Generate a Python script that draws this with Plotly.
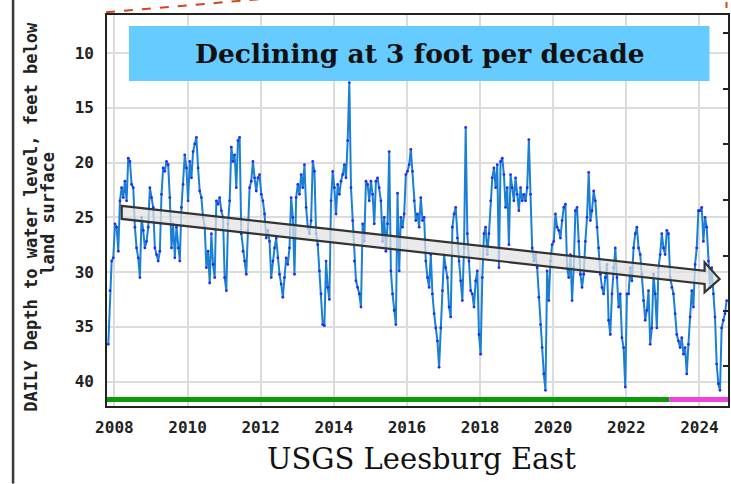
import numpy as np
import plotly.graph_objects as go

# Daily depth-to-water record, sampled about every 16.6 days (22 samples per year)
SAMPLES_PER_YEAR = 22
FIRST_SAMPLE_YEAR = 2007.834

depth_2008_2013 = [
    36.6, 31.7, 29.0, 28.7, 25.6, 25.9, 28.1, 23.5, 22.3, 23.2,
    21.7, 23.5, 19.6, 19.9, 22.0, 22.3, 25.9, 27.8, 28.7, 30.5,
    25.0, 26.2, 27.8, 27.2, 25.9, 22.3, 23.2, 24.1, 27.8, 28.4,
    29.0, 28.1, 22.9, 20.5, 20.8, 19.9, 20.2, 23.2, 27.8, 25.6,
    28.7, 25.9, 27.8, 29.0, 24.1, 22.0, 19.3, 20.5, 23.5, 19.9,
    21.4, 19.0, 18.3, 17.7, 20.5, 22.6, 23.2, 25.0, 25.9, 29.6,
    28.1, 31.0, 26.5, 29.3, 30.5, 23.5, 23.8, 23.2, 24.4, 25.0,
    30.5, 31.7, 25.6, 23.5, 18.6, 19.9, 19.3, 22.3, 18.0, 17.7,
    26.5, 28.1, 29.0, 30.2, 26.2, 22.3, 21.7, 19.9, 21.4, 22.6,
    21.4, 21.1, 22.9, 23.5, 24.7, 26.9, 26.2, 27.2, 30.5, 29.0,
    27.8, 26.9, 28.7, 30.2, 31.1, 32.3, 30.5, 28.7, 29.3, 27.8,
    23.2, 25.0, 30.2, 23.2, 22.0, 22.9, 21.1, 22.3, 20.2, 24.1,
    25.9, 26.5, 25.3, 19.9, 20.8,
]

depth_2013_2019 = [
    26.5, 27.5, 29.9, 32.0, 34.8, 34.9, 29.0, 31.4, 32.5, 23.5,
    20.8, 22.3, 24.7, 22.0, 22.9, 21.7, 21.1, 20.2, 21.4, 18.0,
    12.7, 22.3, 25.3, 29.0, 30.8, 31.4, 32.0, 33.2, 25.6, 27.2,
    21.7, 22.0, 23.5, 21.7, 22.9, 25.6, 21.7, 21.4, 22.3, 23.5,
    27.2, 25.0, 28.1, 25.6, 19.0, 29.9, 32.0, 33.5, 34.8, 22.8,
    29.9, 25.0, 25.9, 24.7, 21.1, 20.8, 20.2, 18.8, 20.8, 23.5,
    25.3, 24.7, 25.9, 23.2, 25.3, 25.0, 29.0, 30.5, 31.4, 28.4,
    32.0, 33.8, 35.1, 36.3, 38.7, 35.1, 31.7, 28.4, 29.6, 30.5,
    33.2, 34.1, 25.9, 24.7, 24.1, 26.9, 29.0, 30.8, 32.6, 27.8,
    16.8, 26.5, 29.0, 31.7, 32.0, 33.2, 30.8, 29.9, 35.7, 37.5,
    30.5, 26.5, 25.9, 28.4, 26.5, 23.5, 21.4, 20.5, 22.3, 20.2,
    29.6, 19.9, 19.6, 21.1, 24.1, 22.3, 27.5, 21.1, 22.3, 23.5,
    21.4, 22.9, 24.4, 22.3, 23.5, 22.9,
]

depth_2019_2024 = [
    23.5, 22.3, 17.9, 22.9, 27.8, 29.0, 28.4, 29.6, 32.3, 34.8,
    36.9, 39.3, 40.8, 29.9, 32.6, 29.0, 27.5, 27.2, 24.7, 25.9,
    26.2, 26.9, 25.3, 24.1, 23.8, 29.6, 30.5, 28.4, 32.6, 29.6,
    24.4, 24.1, 27.2, 30.2, 31.4, 30.2, 27.2, 25.0, 20.9, 25.3,
    24.4, 22.6, 23.5, 25.9, 27.8, 30.2, 31.4, 32.0, 30.5, 29.3,
    34.4, 35.7, 32.0, 29.6, 27.8, 30.5, 33.2, 32.0, 36.0, 36.9,
    40.5, 32.0, 32.0, 29.6, 30.8, 27.8, 26.5, 25.9, 27.8, 28.4,
    30.2, 32.6, 34.4, 33.5, 31.7, 36.6, 35.1, 30.2, 32.0, 35.1,
    29.6, 28.4, 26.5, 27.8, 28.4, 26.2, 26.5, 30.5, 31.4, 32.0,
    33.8, 35.7, 36.3, 36.9, 36.0, 37.5, 36.9, 39.3, 36.6, 34.1,
    31.7, 33.2, 29.3, 27.8, 24.4, 24.4, 24.1, 27.2, 25.0, 25.9,
    29.0, 31.4, 29.6, 32.0, 34.1, 38.4, 40.2, 40.8, 35.1, 34.4,
    33.8, 32.6,
]

depth_ft = depth_2008_2013 + depth_2013_2019 + depth_2019_2024
obs_year = FIRST_SAMPLE_YEAR + np.arange(len(depth_ft)) / SAMPLES_PER_YEAR

# Hand-drawn decline trend (start / arrow tip)
trend_year = [2008.2, 2024.55]
trend_depth = [24.55, 30.64]

# Data-approval status bar along the bottom
status_start = [2007.76, 2023.18]
status_end = [2023.18, 2024.80]
status_color = ["#0a9a0a", "#ee44dd"]

tick_years = list(range(2008, 2025, 2))
depth_ticks = [10, 15, 20, 25, 30, 35, 40]
elev_ticks = [8.2, 13.25, 18.3, 23.4, 28.5, 33.55, 38.6]

x_range = [2007.798, 2024.78]
y_range = [42.23, 6.53]

W, H = 731, 484
ML, MR, MT, MB = 107, 2.5, 15, 77.5
PW, PH = W - ML - MR, H - MT - MB


def px(x):
    return (x - ML) / PW


def py(y):
    return (H - MB - y) / PH


fig = go.Figure()

fig.add_trace(go.Scatter(
    x=obs_year, y=depth_ft, mode="lines+markers",
    line=dict(color="#1a80d3", width=2.0),
    marker=dict(color="#2a2af0", size=2.8),
    showlegend=False, hoverinfo="skip",
))
# carrier for the right-hand (elevation) tick axis
fig.add_trace(go.Scatter(x=[], y=[], yaxis="y2", showlegend=False))

# Block arrow for the trend
x0, x1 = trend_year
y0, y1 = trend_depth
body, head, head_len = 0.6, 1.37, 0.41
xb = x1 - head_len
yb = y0 + (y1 - y0) * (xb - x0) / (x1 - x0)
arrow_path = (
    f"M {x0},{y0 - body} L {xb},{yb - body} L {xb},{yb - head} L {x1},{y1} "
    f"L {xb},{yb + head} L {xb},{yb + body} L {x0},{y0 + body} Z"
)

shapes = [
    dict(type="path", path=arrow_path, xref="x", yref="y",
         fillcolor="rgba(226,226,226,0.72)", line=dict(color="#333333", width=2.2)),
    dict(type="rect", xref="paper", yref="paper",
         x0=px(129), x1=px(710), y0=py(81), y1=py(26),
         fillcolor="#66ccff", line=dict(width=0)),
    # page furniture around the chart
    dict(type="line", xref="paper", yref="paper",
         x0=px(13), x1=px(13), y0=py(H), y1=py(0),
         line=dict(color="#3a3a3a", width=2.5)),
    dict(type="line", xref="paper", yref="paper",
         x0=px(106), x1=px(262), y0=py(12.3), y1=py(-1),
         line=dict(color="#d2461a", width=2, dash="dash")),
    dict(type="line", xref="paper", yref="paper",
         x0=px(727), x1=px(727), y0=py(8), y1=py(2),
         line=dict(color="#d2461a", width=2)),
]
for s0, s1, c in zip(status_start, status_end, status_color):
    shapes.append(dict(type="line", xref="x", yref="paper",
                       x0=s0, x1=s1, y0=py(400), y1=py(400),
                       line=dict(color=c, width=5)))

centered = dict(xref="paper", yref="paper", showarrow=False,
                xanchor="center", yanchor="middle")
annotations = [
    dict(text="<b>Declining at 3 foot per decade</b>", x=px(420), y=py(54),
         font=dict(family="DejaVu Serif", size=26.5, color="#111111"), **centered),
    dict(text="USGS Leesburg East", x=px(422), y=py(460),
         font=dict(family="DejaVu Serif", size=29, color="#111111"), **centered),
    dict(text="<b>DAILY Depth to water level, feet below</b>", x=px(31), y=py(217),
         textangle=-90,
         font=dict(family="DejaVu Sans Mono", size=17, color="#222222"), **centered),
    dict(text="<b>land surface</b>", x=px(48), y=py(214), textangle=-90,
         font=dict(family="DejaVu Sans Mono", size=17, color="#222222"), **centered),
]

tick_font = dict(family="DejaVu Sans Mono", size=16, color="#222222", weight="bold")

fig.update_layout(
    width=W, height=H,
    margin=dict(l=ML, r=MR, t=MT, b=MB),
    paper_bgcolor="white", plot_bgcolor="white",
    shapes=shapes, annotations=annotations,
    xaxis=dict(
        range=x_range, tickvals=tick_years, ticktext=[str(t) for t in tick_years],
        showgrid=True, gridcolor="#dcdcdc", gridwidth=2,
        showline=True, linecolor="#222222", linewidth=1.6, mirror=True,
        ticks="", ticklabelstandoff=6, tickfont=tick_font, zeroline=False,
    ),
    yaxis=dict(
        range=y_range, tickvals=depth_ticks,
        showgrid=True, gridcolor="#dcdcdc", gridwidth=2,
        showline=True, linecolor="#222222", linewidth=1.6, mirror=True,
        ticks="", ticklabelstandoff=8, tickfont=tick_font, zeroline=False,
    ),
    yaxis2=dict(
        range=y_range, overlaying="y", side="right", tickvals=elev_ticks,
        ticks="inside", ticklen=5, tickwidth=1.5, tickcolor="#222222",
        showticklabels=False, showgrid=False, showline=False, zeroline=False,
    ),
)

fig.write_html("out.html")
